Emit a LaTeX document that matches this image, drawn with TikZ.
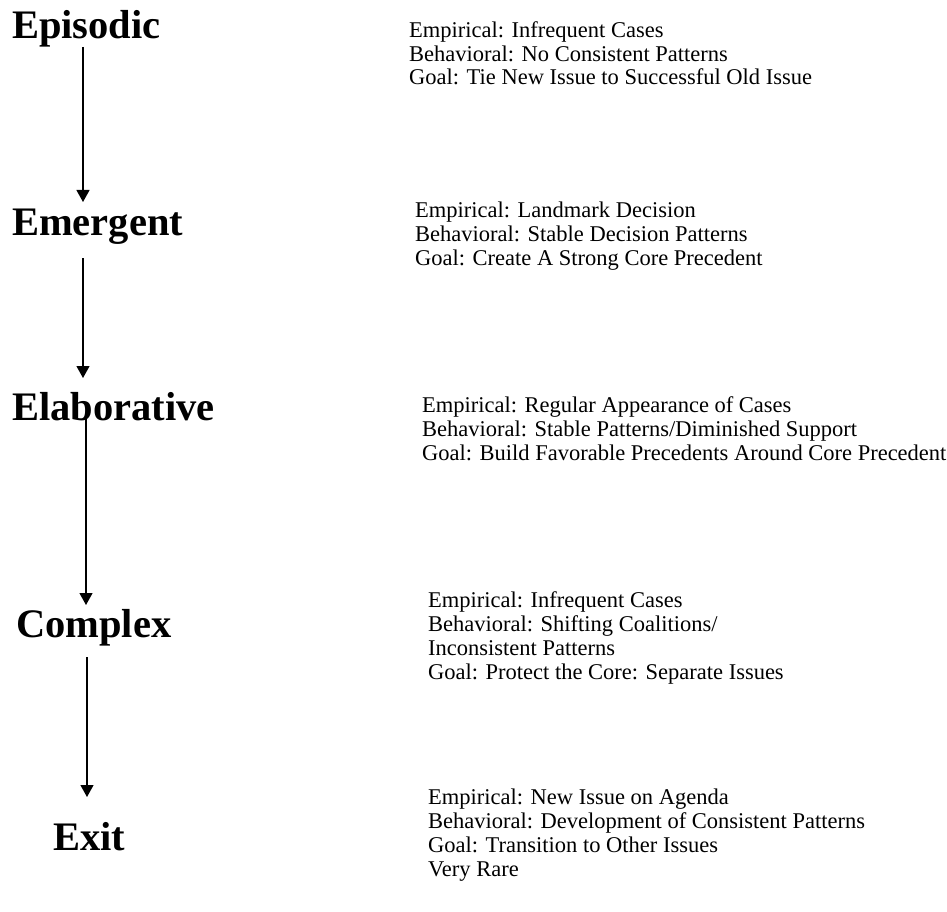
\documentclass[tikz,border=0pt]{standalone}
\usepackage{fontspec}
\setmainfont{Liberation Serif}
\usetikzlibrary{arrows.meta,positioning}
\tikzset{
  stage/.style={
    anchor=base west,
    inner sep=0pt,
    font=\fontsize{40.5}{40.5}\selectfont\bfseries
  },
  traits/.style={
    anchor=base west,
    inner sep=0pt,
    align=left,
    font=\fontsize{22.5}{23.8}\selectfont
  },
  flow/.style={-{Triangle[width=13pt,length=12pt]},line width=1.2pt}
}
\begin{document}
\begin{tikzpicture}[x=1pt,y=-1pt]
\useasboundingbox (0,0) rectangle (947,912);

\node[stage] (epi) at (12,39) {Episodic};
\node[stage] (emg) at (12,235) {Emergent};
\node[stage] (ela) at (12,420) {Elaborative};
\node[stage] (cpx) at (16,637) {Complex};
\node[stage] (ext) at (53,850) {Exit};

% base anchor = last line
\node[traits] (epit) at (409,85) {Empirical: Infrequent Cases\\Behavioral: No Consistent Patterns\\Goal: Tie New Issue to Successful Old Issue};
\node[traits] (emgt) at (415,265) {Empirical: Landmark Decision\\Behavioral: Stable Decision Patterns\\Goal: Create A Strong Core Precedent};
\node[traits] (elat) at (422,460) {Empirical: Regular Appearance of Cases\\Behavioral: Stable Patterns/Diminished Support\\Goal: Build Favorable Precedents Around Core Precedent};
\node[traits] (cpxt) at (428,679) {Empirical: Infrequent Cases\\Behavioral: Shifting Coalitions/\\Inconsistent Patterns\\Goal: Protect the Core: Separate Issues};
\node[traits] (extt) at (428,876) {Empirical: New Issue on Agenda\\Behavioral: Development of Consistent Patterns\\Goal: Transition to Other Issues\\Very Rare};

% arrow ends
\coordinate (s1) at (83,47);
\coordinate (e1) at (83,202);
\coordinate (s2) at (83,258);
\coordinate (e2) at (83,378);
\coordinate (s3) at (86,418);
\coordinate (e3) at (86,605);
\coordinate (s4) at (87,657);
\coordinate (e4) at (87,797);

\draw[flow] (s1) -- (e1);
\draw[flow] (s2) -- (e2);
\draw[flow] (s3) -- (e3);
\draw[flow] (s4) -- (e4);
\end{tikzpicture}
\end{document}
